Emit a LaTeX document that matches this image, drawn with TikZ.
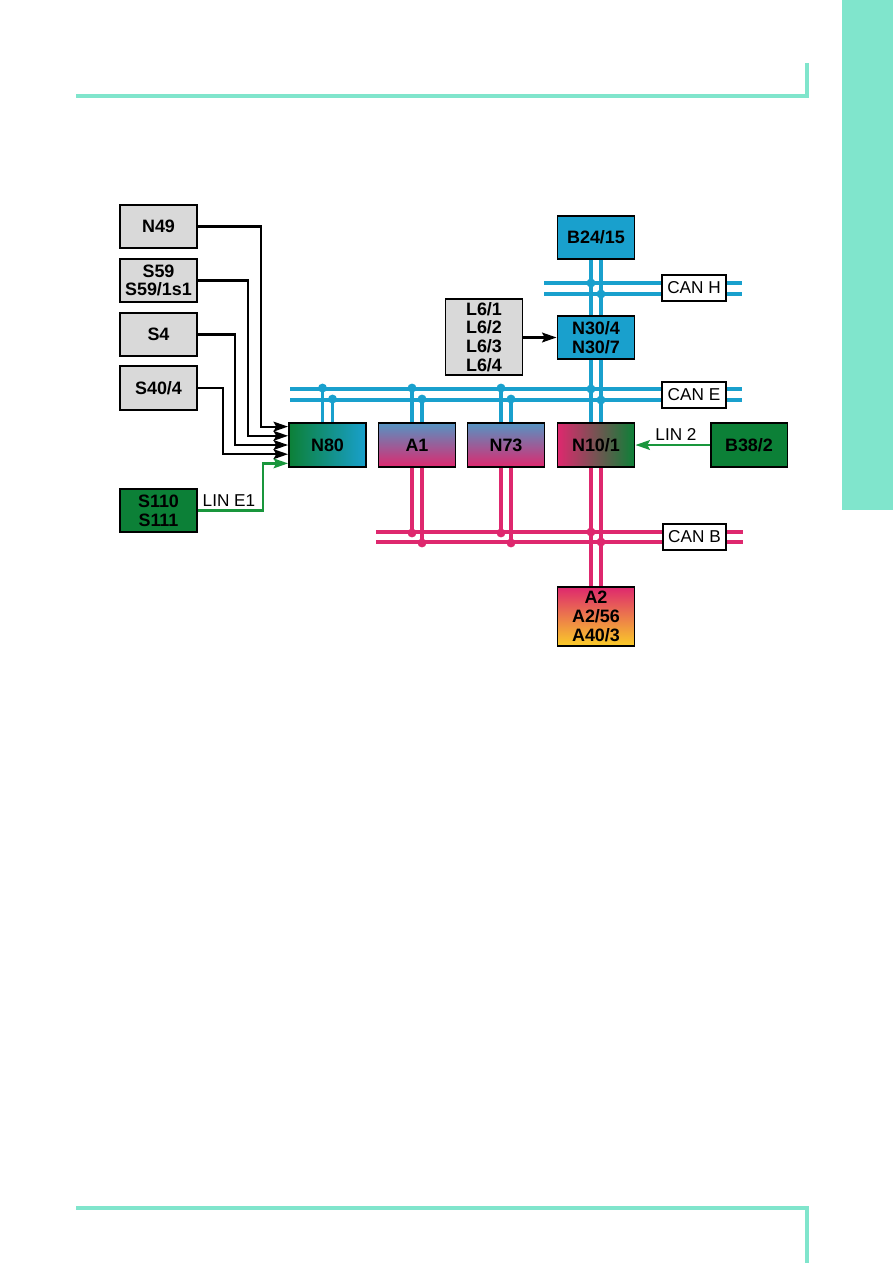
\documentclass[tikz,border=0pt]{standalone}
\usepackage{fontspec}
\setmainfont{Liberation Sans}
\usetikzlibrary{arrows.meta, calc, backgrounds}
\definecolor{pagemint}{RGB}{128, 229, 204}
\definecolor{canblue}{RGB}{25, 160, 205}
\definecolor{canpink}{RGB}{222, 40, 110}
\definecolor{steelblue}{RGB}{85, 148, 195}
\definecolor{boxgray}{RGB}{217, 217, 217}
\definecolor{ecugreen}{RGB}{12, 128, 55}
\definecolor{lingreen}{RGB}{25, 150, 60}
\definecolor{ecuorange}{RGB}{242, 140, 70}
\definecolor{ecuyellow}{RGB}{250, 205, 40}
\tikzstyle{unit} = [rectangle, draw=black, line width=1.3pt, minimum width=18.1mm, minimum height=10.2mm,
                    inner sep=0pt, align=center, font=\fontsize{12}{12.5}\selectfont\bfseries]
\tikzstyle{switch} = [unit, fill=boxgray]
\tikzstyle{busname} = [rectangle, draw=black, line width=1.3pt, fill=white, minimum width=15mm,
                       minimum height=6.1mm, inner sep=0pt, font=\fontsize{11.5}{12}\selectfont]
\tikzstyle{linname} = [inner sep=1pt, font=\fontsize{11.5}{12}\selectfont]
\tikzstyle{arrow} = [-{Stealth[length=3.4mm, width=2.3mm, inset=0.6mm]}, line width=1.5pt]
\tikzstyle{linarrow} = [arrow, lingreen]
\tikzstyle{canE} = [line width=0.85mm, canblue]
\tikzstyle{canB} = [line width=0.85mm, canpink]

\begin{document}
\begin{tikzpicture}[x=0.2352mm, y=0.2352mm]

\useasboundingbox (0,0) rectangle (893,-1263);

% Page frame
\fill[pagemint] (842,0) rectangle (893,-510);
\draw[pagemint, line width=0.8mm] (76,-96) -- (807,-96) -- (807,-63);
\draw[pagemint, line width=0.8mm] (76,-1208) -- (807,-1208) -- (807,-1263);

% Switches and sensors
\node[switch] (N49) at (158.5,-226.5) {N49};
\node[switch] (S59) at (158.5,-280.5) {S59\\S59/1s1};
\node[switch] (S4) at (158.5,-334.5) {S4};
\node[switch] (S40) at (158.5,-388) {S40/4};
\node[unit, fill=ecugreen] (S110) at (158.5,-510.5) {S110\\S111};
\node[switch, minimum height=17.9mm] (L6) at (484,-337) {L6/1\\L6/2\\L6/3\\L6/4};

% Control units
\node[unit, minimum height=10.35mm, left color=ecugreen, right color=canblue] (N80) at (327.5,-445) {N80};
\node[unit, minimum height=10.35mm, top color=steelblue, bottom color=canpink] (A1) at (417,-445) {A1};
\node[unit, minimum height=10.35mm, top color=steelblue, bottom color=canpink] (N73) at (506,-445) {N73};
\node[unit, minimum height=10.35mm, left color=canpink, middle color=canblue, right color=ecugreen] (N10) at (596,-445) {N10/1};
\node[unit, minimum height=10.35mm, fill=ecugreen] (B38) at (749,-445) {B38/2};
\node[unit, fill=canblue] (B24) at (596,-237.5) {B24/15};
\node[unit, fill=canblue] (N30) at (596,-337.5) {N30/4\\N30/7};
\node[unit, minimum height=13.9mm, top color=canpink, middle color=ecuorange, bottom color=ecuyellow] (A2) at (596,-616.5) {A2\\A2/56\\A40/3};

% Bus names
\node[busname] (canH) at (694,-288) {CAN H};
\node[busname] (canEname) at (694,-395) {CAN E};
\node[busname] (canBname) at (694.5,-537) {CAN B};

% Inputs of N80
\foreach \i/\f in {1/0.1, 2/0.3, 3/0.5, 4/0.7, 5/0.9}
  \coordinate (in\i) at ($(N80.north west)!\f!(N80.south west)$);
\draw[arrow] (N49.east) -| ($(in1)+(-27,0)$) -- (in1);
\draw[arrow] (S59.east) -| ($(in2)+(-40,0)$) -- (in2);
\draw[arrow] (S4.east) -| ($(in3)+(-53,0)$) -- (in3);
\draw[arrow] (S40.east) -| ($(in4)+(-65,0)$) -- (in4);
\draw[linarrow] (S110.east) -| ($(in5)+(-25,0)$) -- (in5);
\node[linname, anchor=south west] (linE1) at ($(S110.east)+(3,2)$) {LIN E1};

\draw[arrow] (L6.east |- N30.west) -- (N30.west);
\draw[linarrow] (B38.west) -- (N10.east);
\node[linname] (lin2) at (676,-434) {LIN 2};

\begin{scope}[on background layer]
% Buses
\draw[canE] (544,-283) -- (742,-283);
\draw[canE] (544,-294) -- (742,-294);
\draw[canE] (290,-389) -- (742,-389);
\draw[canE] (290,-400) -- (742,-400);
\draw[canB] (376,-532) -- (743,-532);
\draw[canB] (376,-542) -- (743,-542);

% Drops to CAN E
\foreach \n in {N80, A1, N73} {
  \draw[canE] ($(\n.north)+(-5,0)$) -- ++(0,34);
  \draw[canE] ($(\n.north)+(5,0)$) -- ++(0,23);
  \fill[canblue] ($(\n.north)+(-5,34)$) circle (1.05mm);
  \fill[canblue] ($(\n.north)+(5,23)$) circle (1.05mm);
}
\foreach \dx in {-5, 5} {
  \draw[canE] ($(B24.south)+(\dx,0)$) -- ($(N30.north)+(\dx,0)$);
  \draw[canE] ($(N30.south)+(\dx,0)$) -- ($(N10.north)+(\dx,0)$);
  \draw[canB] ($(N10.south)+(\dx,0)$) -- ($(A2.north)+(\dx,0)$);
}
\fill[canblue] (591,-283) circle (1.05mm);
\fill[canblue] (601,-294) circle (1.05mm);
\fill[canblue] (591,-389) circle (1.05mm);
\fill[canblue] (601,-400) circle (1.05mm);

% Drops to CAN B
\foreach \n in {A1, N73} {
  \draw[canB] ($(\n.south)+(-5,0)$) -- ++(0,-65);
  \draw[canB] ($(\n.south)+(5,0)$) -- ++(0,-75);
  \fill[canpink] ($(\n.south)+(-5,-65)$) circle (1.05mm);
  \fill[canpink] ($(\n.south)+(5,-75)$) circle (1.05mm);
}
\fill[canpink] (591,-532) circle (1.05mm);
\fill[canpink] (601,-542) circle (1.05mm);
\end{scope}

\end{tikzpicture}
\end{document}
